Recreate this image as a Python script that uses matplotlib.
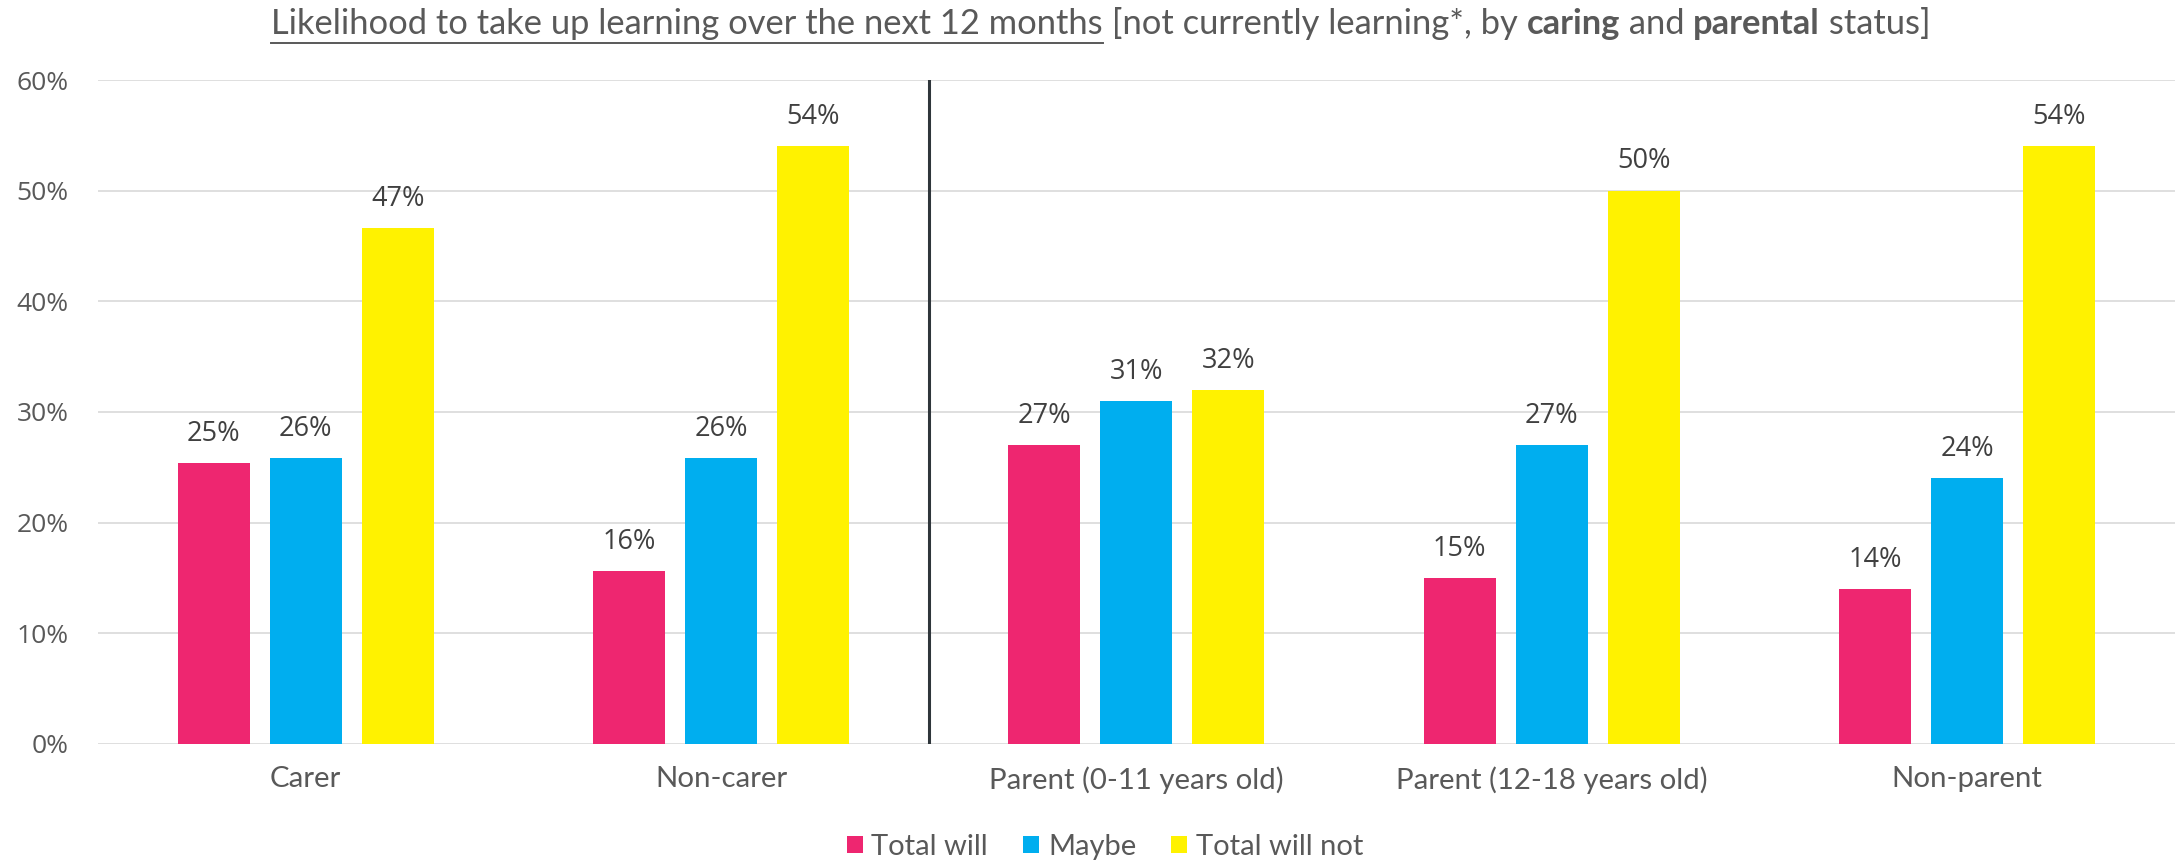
import matplotlib
matplotlib.use('Agg')
import matplotlib.pyplot as plt
from matplotlib.patches import Patch
from matplotlib.lines import Line2D
from matplotlib.ticker import PercentFormatter
import numpy as np

# ========== Data ==========
categories = ['Carer', 'Non-carer', 'Parent (0-11 years old)', 'Parent (12-18 years old)', 'Non-parent']
series_names = ['Total will', 'Maybe', 'Total will not']
total_will = [25.4, 15.6, 27.0, 15.0, 14.0]
maybe = [25.8, 25.8, 31.0, 27.0, 24.0]
total_will_not = [46.6, 54.0, 32.0, 50.0, 54.0]
colors = ['#EE2670', '#00AEEF', '#FFF200']

TEXT = '#595959'
LABEL = '#404040'
NUM_FONT = 'Open Sans'
WORD_FONT = 'Lato'

# ========== Figure ==========
fig = plt.figure(figsize=(21.76, 8.65), dpi=100)
ax = fig.add_axes([0.045, 0.1399, 0.9545, 0.7676])

x = np.arange(len(categories))
pitch = 0.2215
width = 0.1733
for i, vals in enumerate([total_will, maybe, total_will_not]):
    bars = ax.bar(x + (i - 1) * pitch, vals, width=width, color=colors[i], zorder=3)
    for b, v in zip(bars, vals):
        ax.annotate(f'{round(v):d}%', (b.get_x() + b.get_width() / 2, v),
                    xytext=(0, 11), textcoords='offset points',
                    ha='center', va='bottom', fontsize=19.5,
                    color=LABEL, family=NUM_FONT)

ax.set_xlim(-0.5, len(categories) - 0.5)
ax.set_ylim(0, 60)
ax.set_yticks(np.arange(0, 61, 10))
ax.yaxis.set_major_formatter(PercentFormatter(decimals=0))
ax.grid(axis='y', color='#d9d9d9', linewidth=1.2, zorder=0)
for s in ax.spines.values():
    s.set_visible(False)

# divider between caring and parental groups
ax.axvline(1.5, color='#2f363b', linewidth=2.2, zorder=4)

ax.set_xticks(x)
ax.set_xticklabels(categories, family=WORD_FONT, fontsize=21.2, color=TEXT)
ax.tick_params(axis='x', length=0, pad=16)
ax.tick_params(axis='y', length=0, pad=21, labelsize=19, labelcolor=TEXT)
for t in ax.get_yticklabels():
    t.set_family(NUM_FONT)

# ========== Legend ==========
handles = [Patch(facecolor=c, edgecolor='none') for c in colors]
fig.legend(handles, series_names, loc='center', ncol=3,
           bbox_to_anchor=(1105 / 2176, 1 - 847 / 865), frameon=False,
           prop={'family': WORD_FONT, 'size': 21}, labelcolor=TEXT,
           handlelength=0.55, handleheight=0.55, handletextpad=0.3,
           columnspacing=1.2)

# ========== Title (mixed styles) ==========
title_parts = [
    ('Likelihood to take up learning over the next 12 months', 'normal', True),
    (' [not currently learning*, by ', 'normal', False),
    ('caring', 'bold', False),
    (' and ', 'normal', False),
    ('parental', 'bold', False),
    (' status]', 'normal', False),
]
renderer = fig.canvas.get_renderer()
W = fig.get_figwidth() * fig.dpi
y_base = 1 - 34 / 865
texts = []
for s, w, u in title_parts:
    t = fig.text(0, y_base, s, fontsize=24.8, family=WORD_FONT, weight=w,
                 color=TEXT, va='baseline', ha='left')
    texts.append((t, u))
widths = [t.get_window_extent(renderer).width / W for t, _ in texts]
xpos = 1101 / 2176 - sum(widths) / 2
for (t, u), w in zip(texts, widths):
    t.set_x(xpos)
    if u:
        fig.add_artist(Line2D([xpos, xpos + w], [y_base - 9 / 865] * 2,
                              color=TEXT, linewidth=1.4))
    xpos += w

fig.savefig('out.png', dpi=100)
